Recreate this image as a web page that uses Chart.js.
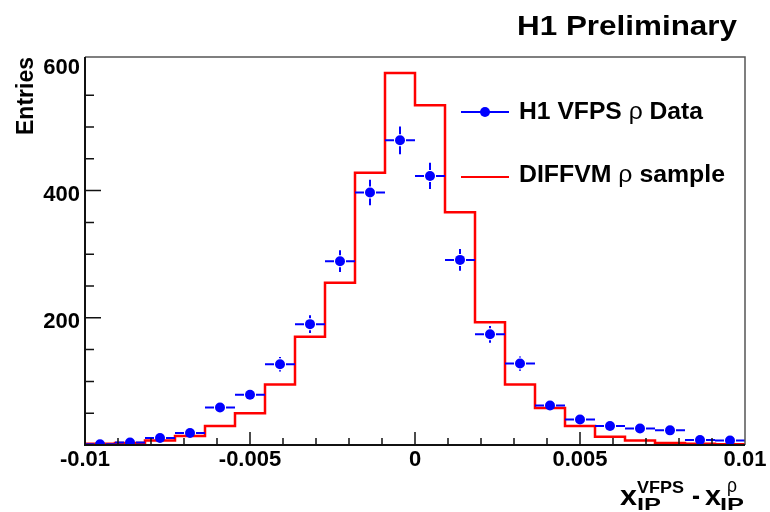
<!DOCTYPE html>
<html><head><meta charset="utf-8">
<script src="https://cdn.jsdelivr.net/npm/chart.js@4"></script>
<style>html,body{margin:0;padding:0;background:#fff}#wrap{width:770px;height:512px;position:relative}</style>
</head><body><div id="wrap"><canvas id="c"></canvas></div>
<script>
// ---- data ----
const xMin = -0.01, xMax = 0.01, nBins = 22;
const dataCounts = [1, 4, 11, 19, 59, 79, 127, 190, 289, 397, 479, 423, 291, 174, 128, 62, 40, 30, 26, 23, 8, 7];
const dataErrors = [1, 2, 3.3, 4.4, 7.7, 8.9, 11.3, 13.8, 17, 19.9, 21.9, 20.6, 17.1, 13.2, 11.3, 7.9, 6.3, 5.5, 5.1, 4.8, 2.8, 2.6];
const mcCounts = [2, 3, 7, 14, 30, 50, 95, 170, 255, 428, 585, 534, 366, 193, 95, 58, 30, 13, 7, 3, 2, 1];
const xTickValues = [-0.01, -0.005, 0, 0.005, 0.01];
const xTickLabels = ['-0.01', '-0.005', '0', '0.005', '0.01'];
const yTickValues = [200, 400, 600];
const yTickLabels = ['200', '400', '600'];
const yMin = 0, yMax = 610;
const dataLabel = ['H1 VFPS ', 'ρ', ' Data'];
const mcLabel = ['DIFFVM ', 'ρ', ' sample'];
const titleText = 'H1 Preliminary';
const yTitle = 'Entries';

const binW = (xMax - xMin) / nBins;
const edges = Array.from({length: nBins + 1}, (_, i) => xMin + i * binW);
const centers = dataCounts.map((_, i) => xMin + (i + 0.5) * binW);
const dataPoints = centers.map((c, i) => ({x: c, y: dataCounts[i]}));
// step line: value of bin i spans [edge i, edge i+1]
const mcPoints = edges.map((e, i) => ({x: e, y: mcCounts[Math.min(i, nBins - 1)]}));

const BLUE = '#0000ff', RED = '#ff0000';
const FONT = '"Liberation Sans", Arial, sans-serif';

function drawRuns(ctx, runs, x, y, targetW) {
  let w = 0;
  runs.forEach(r => { ctx.font = r.f; w += ctx.measureText(r.t).width; });
  const s = targetW ? targetW / w : 1;
  ctx.save(); ctx.translate(x, y); ctx.scale(s, 1);
  ctx.textAlign = 'left'; ctx.textBaseline = 'alphabetic'; ctx.fillStyle = '#000';
  let cx = 0;
  runs.forEach(r => { ctx.font = r.f; ctx.fillText(r.t, cx, 0); cx += ctx.measureText(r.t).width; });
  ctx.restore();
}

const errorBars = {
  id: 'errorBars',
  afterDatasetsDraw(chart) {
    const {ctx, scales: {x, y}} = chart;
    ctx.save();
    ctx.strokeStyle = BLUE; ctx.lineWidth = 2;
    const gap = 6;
    centers.forEach((c, i) => {
      const px = x.getPixelForValue(c), py = y.getPixelForValue(dataCounts[i]);
      const hl = x.getPixelForValue(c - binW / 2), hr = x.getPixelForValue(c + binW / 2);
      const vt = y.getPixelForValue(dataCounts[i] + dataErrors[i]);
      const vb = y.getPixelForValue(Math.max(0, dataCounts[i] - dataErrors[i]));
      ctx.beginPath();
      ctx.moveTo(hl, py); ctx.lineTo(px - gap, py);
      ctx.moveTo(px + gap, py); ctx.lineTo(hr, py);
      if (py - vt > gap) { ctx.moveTo(px, py - gap); ctx.lineTo(px, vt); }
      if (vb - py > gap) { ctx.moveTo(px, py + gap); ctx.lineTo(px, vb); }
      ctx.stroke();
    });
    ctx.restore();
  }
};

const decor = {
  id: 'decor',
  afterDraw(chart) {
    const {ctx, chartArea: a, scales: {x, y}} = chart;
    ctx.save();
    // frame
    ctx.strokeStyle = '#555'; ctx.lineWidth = 1.5;
    ctx.beginPath(); ctx.moveTo(a.left, a.top); ctx.lineTo(a.right, a.top); ctx.lineTo(a.right, a.bottom); ctx.stroke();
    ctx.strokeStyle = '#111'; ctx.lineWidth = 2;
    ctx.beginPath(); ctx.moveTo(a.left, a.top); ctx.lineTo(a.left, a.bottom); ctx.lineTo(a.right, a.bottom); ctx.stroke();
    // ticks
    ctx.lineWidth = 1.5; ctx.strokeStyle = '#111';
    ctx.beginPath();
    x.ticks.forEach(t => {
      const v = t.value; const px = x.getPixelForValue(v);
      if (px <= a.left + 1 || px >= a.right - 1) return;
      const major = Math.abs(v / 0.005 - Math.round(v / 0.005)) < 1e-6;
      ctx.moveTo(px, a.bottom); ctx.lineTo(px, a.bottom - (major ? 13 : 7));
    });
    y.ticks.forEach(t => {
      const v = t.value; if (Math.abs(v / 50 - Math.round(v / 50)) > 1e-6) return;
      const py = y.getPixelForValue(v);
      if (py >= a.bottom - 1) return;
      const major = Math.abs(v / 200 - Math.round(v / 200)) < 1e-6;
      ctx.moveTo(a.left, py); ctx.lineTo(a.left + (major ? 16 : 9), py);
    });
    ctx.stroke();
    // tick labels
    ctx.fillStyle = '#000';
    ctx.font = 'bold 22px ' + FONT;
    ctx.textBaseline = 'alphabetic';
    ctx.textAlign = 'center';
    xTickValues.forEach((v, i) => ctx.fillText(xTickLabels[i], x.getPixelForValue(v), 466));
    ctx.textAlign = 'right';
    yTickValues.forEach((v, i) => ctx.fillText(yTickLabels[i], 80, y.getPixelForValue(v) + 10.5));
    // y title
    ctx.save();
    ctx.translate(33, 57); ctx.rotate(-Math.PI / 2);
    ctx.font = 'bold 23px ' + FONT; ctx.textAlign = 'right';
    ctx.fillText(yTitle, 0, 0);
    ctx.restore();
    // title
    drawRuns(ctx, [{t: titleText, f: 'bold 28px ' + FONT}], 517, 35, 220);
    // legend
    ctx.strokeStyle = BLUE; ctx.lineWidth = 2;
    ctx.beginPath(); ctx.moveTo(461, 112); ctx.lineTo(509, 112); ctx.stroke();
    ctx.fillStyle = BLUE; ctx.beginPath(); ctx.arc(485, 112, 5, 0, Math.PI * 2); ctx.fill();
    ctx.strokeStyle = RED; ctx.lineWidth = 2;
    ctx.beginPath(); ctx.moveTo(461, 177); ctx.lineTo(509, 177); ctx.stroke();
    const bf = 'bold 23px ' + FONT, rf = '23px ' + FONT;
    drawRuns(ctx, [{t: dataLabel[0], f: bf}, {t: dataLabel[1], f: rf}, {t: dataLabel[2], f: bf}], 519, 118.5, 184);
    drawRuns(ctx, [{t: mcLabel[0], f: bf}, {t: mcLabel[1], f: rf}, {t: mcLabel[2], f: bf}], 519, 182, 206);
    // x title: x_IP^VFPS - x_IP^rho
    drawRuns(ctx, [{t: 'x', f: 'bold 27px ' + FONT}], 620, 505, 17);
    drawRuns(ctx, [{t: 'VFPS', f: 'bold 17px ' + FONT}], 637, 493, 47);
    drawRuns(ctx, [{t: 'IP', f: 'bold 17px ' + FONT}], 637, 510, 24);
    drawRuns(ctx, [{t: '-', f: 'bold 27px ' + FONT}], 692, 505, 8);
    drawRuns(ctx, [{t: 'x', f: 'bold 27px ' + FONT}], 705, 505, 16);
    drawRuns(ctx, [{t: 'ρ', f: '20px ' + FONT}], 727, 492, 10);
    drawRuns(ctx, [{t: 'IP', f: 'bold 17px ' + FONT}], 720, 510, 24);
    ctx.restore();
  }
};

new Chart(document.getElementById('c'), {
  type: 'scatter',
  data: {
    datasets: [
      {label: dataLabel.join(''), data: dataPoints, pointRadius: 5, pointBackgroundColor: BLUE,
       pointBorderWidth: 0, pointBorderColor: BLUE, showLine: false},
      {label: mcLabel.join(''), type: 'line', data: mcPoints, stepped: 'before', borderColor: RED,
       borderWidth: 2.5, pointRadius: 0, fill: false, tension: 0}
    ]
  },
  options: {
    responsive: true, maintainAspectRatio: false, animation: false, events: [],
    layout: {padding: {top: 57, right: 25, left: 0, bottom: 0}},
    plugins: {legend: {display: false}, tooltip: {enabled: false}, title: {display: false}},
    scales: {
      x: {type: 'linear', min: xMin, max: xMax, ticks: {display: false, stepSize: 0.001},
          grid: {display: false}, border: {display: false}, afterFit(s) { s.height = 67; }},
      y: {type: 'linear', min: yMin, max: yMax, ticks: {display: false, stepSize: 50},
          grid: {display: false}, border: {display: false}, afterFit(s) { s.width = 85; }}
    }
  },
  plugins: [errorBars, decor]
});
</script>
</body></html>
